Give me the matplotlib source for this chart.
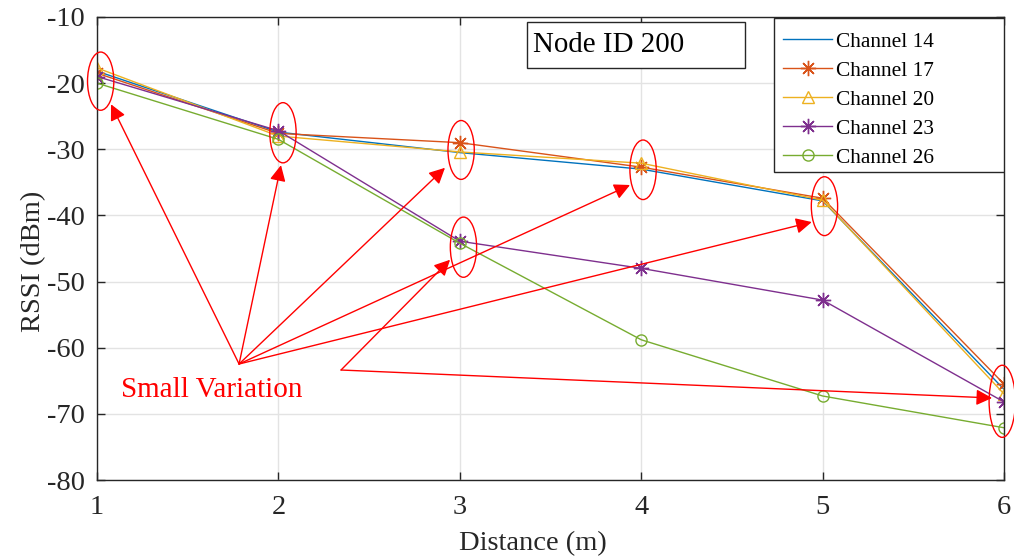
import matplotlib.pyplot as plt
from matplotlib.patches import Ellipse, Rectangle

distance = [1, 2, 3, 4, 5, 6]
ch14 = [-18.2, -27.4, -30.5, -33.0, -37.8, -66.3]
ch17 = [-18.5, -27.6, -29.0, -32.7, -37.4, -65.5]
ch20 = [-17.7, -28.0, -30.4, -32.1, -37.7, -67.0]
ch23 = [-19.0, -27.2, -43.9, -48.0, -52.8, -68.2]
ch26 = [-20.0, -28.5, -44.2, -58.8, -67.3, -72.1]

# ellipses around the "small variation" spots (x, y center) and arrow tips
ellipse_centers = [(1.02, -19.7), (2.025, -27.5), (3.007, -30.1), (3.02, -44.8),
                   (4.01, -33.1), (5.01, -38.6), (5.99, -68.1)]
ellipse_heights = [8.8, 9.1, 8.9, 9.1, 9.0, 8.9, 10.9]
tips_a = [(1.077, -23.2), (2.014, -32.4), (2.918, -32.8), (3.938, -35.4), (4.94, -41.0)]
tips_b = [(2.946, -46.7), (5.934, -67.6)]
origin_a = (1.783, -62.46)
origin_b = (2.345, -63.37)

plt.rcParams['font.family'] = ['Liberation Serif', 'DejaVu Serif']
plt.rcParams['axes.unicode_minus'] = False

fig = plt.figure(figsize=(10.14, 5.59), dpi=100)
ax = fig.add_axes([0.0957, 0.1413, 0.8945, 0.8283])

asterisk = (8, 2, 0)
ax.plot(distance, ch14, color='#0072BD', lw=1.0, label='Channel 14')
ax.plot(distance, ch17, color='#D95319', lw=1.0, marker=asterisk, ms=11,
        mew=1.0, label='Channel 17')
ax.plot(distance, ch20, color='#EDB120', lw=1.0, marker='^', ms=9,
        mfc='none', mew=1.0, label='Channel 20')
ax.plot(distance, ch23, color='#7E2F8E', lw=1.0, marker=asterisk, ms=11,
        mew=1.0, label='Channel 23')
ax.plot(distance, ch26, color='#77AC30', lw=1.0, marker='o', ms=8,
        mfc='none', mew=1.0, label='Channel 26')

ax.set_xlim(1, 6)
ax.set_ylim(-80, -10)
ax.set_xticks(distance)
ax.set_yticks(range(-80, -9, 10))
ax.grid(True, color='#e3e3e3', lw=1.0)
ax.set_axisbelow(True)
for s in ax.spines.values():
    s.set_color('#262626')
    s.set_linewidth(1.0)
ax.tick_params(direction='in', length=6, width=1.0, top=True, right=True,
               labelsize=20.5, colors='#262626')
ax.tick_params(axis='y', pad=9)
ax.tick_params(axis='x', pad=11)
ax.set_xlabel('Distance (m)', fontsize=20.5, color='#262626')
ax.set_ylabel('RSSI (dBm)', fontsize=20.5, color='#262626')
ax.xaxis.set_label_coords(0.481, -0.11)
ax.yaxis.set_label_coords(-0.056, 0.473)

# legend: MATLAB-style box with extra room on the right
ax.add_patch(Rectangle((0.7464, 0.6652), 0.2536, 0.3326, transform=ax.transAxes,
                       facecolor='white', edgecolor='#262626', lw=1.0, zorder=8))
leg = ax.legend(loc='upper left', bbox_to_anchor=(0.7563, 0.968), frameon=False,
                fontsize=15.4, handlelength=2.29, labelspacing=0.42,
                borderaxespad=0.0, borderpad=0.0, handletextpad=0.2)
leg.set_zorder(9)

# Node ID text box
ax.add_patch(Rectangle((0.474, 0.8898), 0.2404, 0.0994, transform=ax.transAxes,
                       fill=True, facecolor='white', edgecolor='#262626', lw=1.0,
                       zorder=5))
ax.text(0.4807, 0.9395, 'Node ID 200', transform=ax.transAxes, fontsize=20.8,
        va='center', ha='left', zorder=6)

for (cx, cy), h in zip(ellipse_centers, ellipse_heights):
    ax.add_patch(Ellipse((cx, cy), 0.145, h, fill=False, edgecolor='red',
                         lw=1.0, clip_on=False, zorder=7))

arrow = dict(arrowstyle='-|>', color='red', lw=1.0, mutation_scale=24,
             shrinkA=0, shrinkB=0)
for tip in tips_a:
    ax.annotate('', xy=tip, xytext=origin_a, arrowprops=arrow, zorder=7)
for tip in tips_b:
    ax.annotate('', xy=tip, xytext=origin_b, arrowprops=arrow, zorder=7)

ax.text(1.63, -66.4, 'Small Variation', color='red', fontsize=21,
        ha='center', va='center')

fig.savefig('out.png', dpi=100)
